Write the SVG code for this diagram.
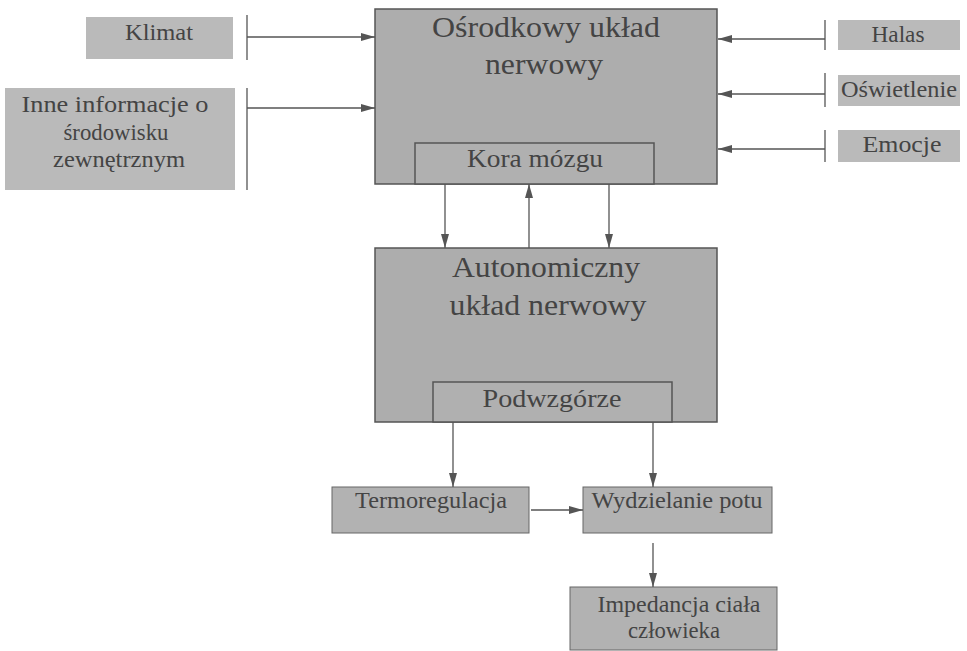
<svg xmlns="http://www.w3.org/2000/svg" width="967" height="651" viewBox="0 0 967 651">
<style>
.big{fill:#adadad;stroke:#555;stroke-width:1.5}
.inner{fill:#b0b0b0;stroke:#555;stroke-width:1.5}
.small{fill:#bababa;stroke:none}
.smallb{fill:#b2b2b2;stroke:#666;stroke-width:1}
.lbl text{fill:#444;text-anchor:middle;font-family:Liberation Serif, Times New Roman, DejaVu Serif, serif}
.t1{font-size:30px}
.t2{font-size:25px}
.t3{font-size:23px}
.c line{stroke:#555;stroke-width:1.3}
</style>
<defs>
<marker id="ah" viewBox="0 0 14 8" refX="14" refY="4" markerWidth="14" markerHeight="8" markerUnits="userSpaceOnUse" orient="auto">
<path d="M0,0 L14,4 L0,8 Z" fill="#555"/>
</marker>
</defs>
<rect width="967" height="651" fill="#fff"/>
<g class="lbl">
<g id="klimat"><rect class="small" x="86" y="17" width="147" height="42"/><text class="t3" x="159" y="40" textLength="68" lengthAdjust="spacingAndGlyphs">Klimat</text></g>
<g id="inne"><rect class="small" x="5" y="88" width="230" height="102"/>
<text class="t3" x="115" y="112" textLength="187" lengthAdjust="spacingAndGlyphs">Inne informacje o</text>
<text class="t3" x="116" y="140" textLength="105" lengthAdjust="spacingAndGlyphs">środowisku</text>
<text class="t3" x="119" y="167" textLength="132" lengthAdjust="spacingAndGlyphs">zewnętrznym</text></g>

<g id="osrodkowy"><rect class="big" x="375" y="9" width="342" height="175"/>
<text class="t1" x="546" y="37" textLength="228" lengthAdjust="spacingAndGlyphs">Ośrodkowy układ</text>
<text class="t1" x="544" y="74" textLength="118" lengthAdjust="spacingAndGlyphs">nerwowy</text></g>
<g id="kora"><rect class="inner" x="415" y="143" width="239" height="41"/>
<text class="t2" x="535" y="167" textLength="136" lengthAdjust="spacingAndGlyphs">Kora mózgu</text></g>

<g id="halas"><rect class="small" x="838" y="20" width="122" height="30"/><text class="t3" x="898" y="42" textLength="53" lengthAdjust="spacingAndGlyphs">Halas</text></g>
<g id="oswietlenie"><rect class="small" x="838" y="75" width="122" height="31"/><text class="t3" x="899" y="97" textLength="116" lengthAdjust="spacingAndGlyphs">Oświetlenie</text></g>
<g id="emocje"><rect class="small" x="838" y="130" width="122" height="32"/><text class="t3" x="902" y="152" textLength="79" lengthAdjust="spacingAndGlyphs">Emocje</text></g>

<g id="autonomiczny"><rect class="big" x="375" y="248" width="342" height="174"/>
<text class="t1" x="546" y="277" textLength="188" lengthAdjust="spacingAndGlyphs">Autonomiczny</text>
<text class="t1" x="548" y="315" textLength="197" lengthAdjust="spacingAndGlyphs">układ nerwowy</text></g>
<g id="podwzgorze"><rect class="inner" x="433" y="382" width="239" height="40"/>
<text class="t2" x="552" y="407" textLength="139" lengthAdjust="spacingAndGlyphs">Podwzgórze</text></g>

<g id="termoregulacja"><rect class="smallb" x="332" y="487" width="197" height="46"/><text class="t3" x="431" y="508" textLength="152" lengthAdjust="spacingAndGlyphs">Termoregulacja</text></g>
<g id="wydzielanie"><rect class="smallb" x="583" y="487" width="189" height="46"/><text class="t3" x="677" y="508" textLength="171" lengthAdjust="spacingAndGlyphs">Wydzielanie potu</text></g>
<g id="impedancja"><rect class="smallb" x="570" y="587" width="207" height="63"/>
<text class="t3" x="679" y="612" textLength="163" lengthAdjust="spacingAndGlyphs">Impedancja ciała</text>
<text class="t3" x="674" y="638" textLength="92" lengthAdjust="spacingAndGlyphs">człowieka</text></g>
</g>
<g class="c" id="connectors">
<line x1="247" y1="15" x2="247" y2="60"/>
<line x1="247" y1="88" x2="247" y2="190"/>
<line x1="247" y1="37" x2="375" y2="37" marker-end="url(#ah)"/>
<line x1="247" y1="108" x2="375" y2="108" marker-end="url(#ah)"/>
<line x1="825" y1="20" x2="825" y2="50"/>
<line x1="825" y1="73" x2="825" y2="107"/>
<line x1="825" y1="130" x2="825" y2="162"/>
<line x1="825" y1="39" x2="718" y2="39" marker-end="url(#ah)"/>
<line x1="825" y1="94" x2="718" y2="94" marker-end="url(#ah)"/>
<line x1="825" y1="149" x2="718" y2="149" marker-end="url(#ah)"/>
<line x1="445" y1="184" x2="445" y2="248" marker-end="url(#ah)"/>
<line x1="529" y1="248" x2="529" y2="184" marker-end="url(#ah)"/>
<line x1="609" y1="184" x2="609" y2="248" marker-end="url(#ah)"/>
<line x1="453" y1="422" x2="453" y2="487" marker-end="url(#ah)"/>
<line x1="653" y1="422" x2="653" y2="487" marker-end="url(#ah)"/>
<line x1="531" y1="510" x2="583" y2="510" marker-end="url(#ah)"/>
<line x1="653" y1="543" x2="653" y2="587" marker-end="url(#ah)"/>
</g>
</svg>
